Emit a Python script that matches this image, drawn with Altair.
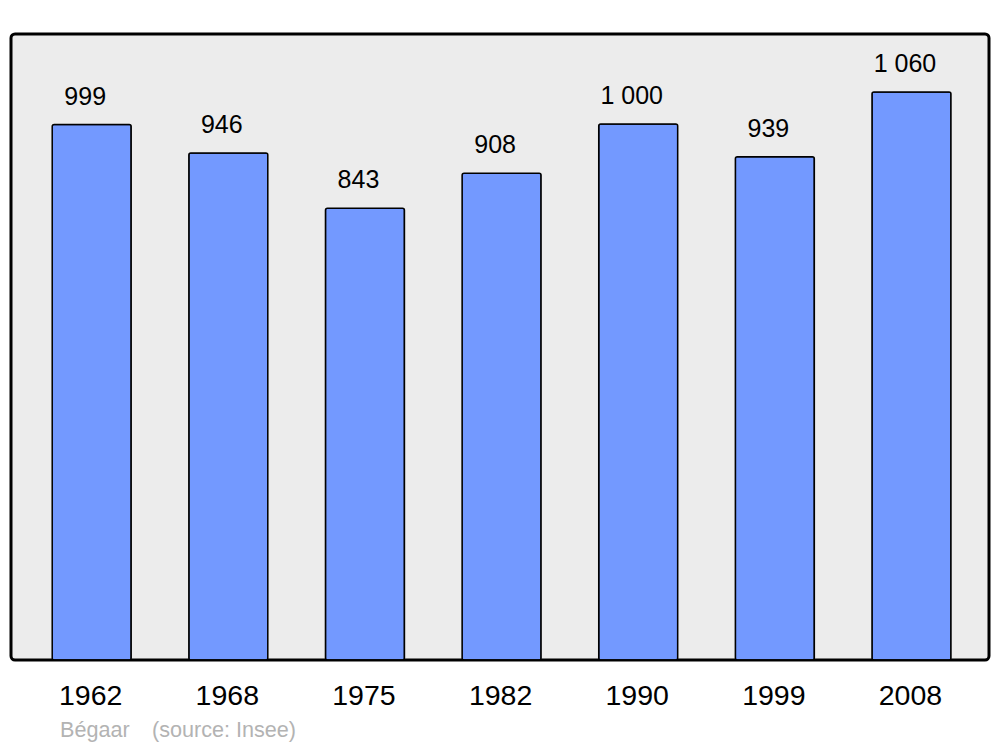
import altair as alt
import pandas as pd

years = ["1962", "1968", "1975", "1982", "1990", "1999", "2008"]
population = [999, 946, 843, 908, 1000, 939, 1060]
labels = [f"{v:,}".replace(",", " ") for v in population]
place = "Bégaar"
source = "(source: Insee)"

df = pd.DataFrame({"year": years, "pop": population, "label": labels})

FONT = "Liberation Sans"

x = alt.X(
    "year:N",
    sort=None,
    title=None,
    scale=alt.Scale(paddingInner=0.422, paddingOuter=0.29, align=0.52),
    axis=alt.Axis(
        labelAngle=0,
        domain=False,
        ticks=False,
        labelFontSize=28.5,
        labelColor="black",
        labelFont=FONT,
        labelPadding=21,
        labelOffset=-1,
        grid=False,
    ),
)
y = alt.Y("pop:Q", scale=alt.Scale(domain=[0, 1168], nice=False), axis=None)

bars = alt.Chart(df).mark_bar(
    color="#7399ff", stroke="black", strokeWidth=1.5, cornerRadius=2
).encode(x=x, y=y)

text = alt.Chart(df).mark_text(
    font=FONT, fontSize=25, dy=-20, dx=-6.5, baseline="alphabetic", color="black"
).encode(x=x, y=y, text="label:N")

foot = pd.DataFrame({"t": [place], "s": [source]})
foot1 = alt.Chart(foot).mark_text(
    font=FONT, fontSize=21.6, align="left", baseline="alphabetic", color="#b3b3b3"
).encode(x=alt.value(49), y=alt.value(703), text="t:N")
foot2 = alt.Chart(foot).mark_text(
    font=FONT, fontSize=21.6, align="left", baseline="alphabetic", color="#b3b3b3"
).encode(x=alt.value(141), y=alt.value(703), text="s:N")

chart = (
    alt.layer(bars, text, foot1, foot2)
    .properties(
        width=978,
        height=626,
        autosize=alt.AutoSizeParams(type="none"),
        padding={"left": 3, "top": 26, "right": 3, "bottom": 90},
        background="white",
    )
    .configure_view(fill="#ececec", stroke="black", strokeWidth=3, cornerRadius=4)
)

chart.save("out.html", embed_options={"renderer": "svg", "actions": False})
